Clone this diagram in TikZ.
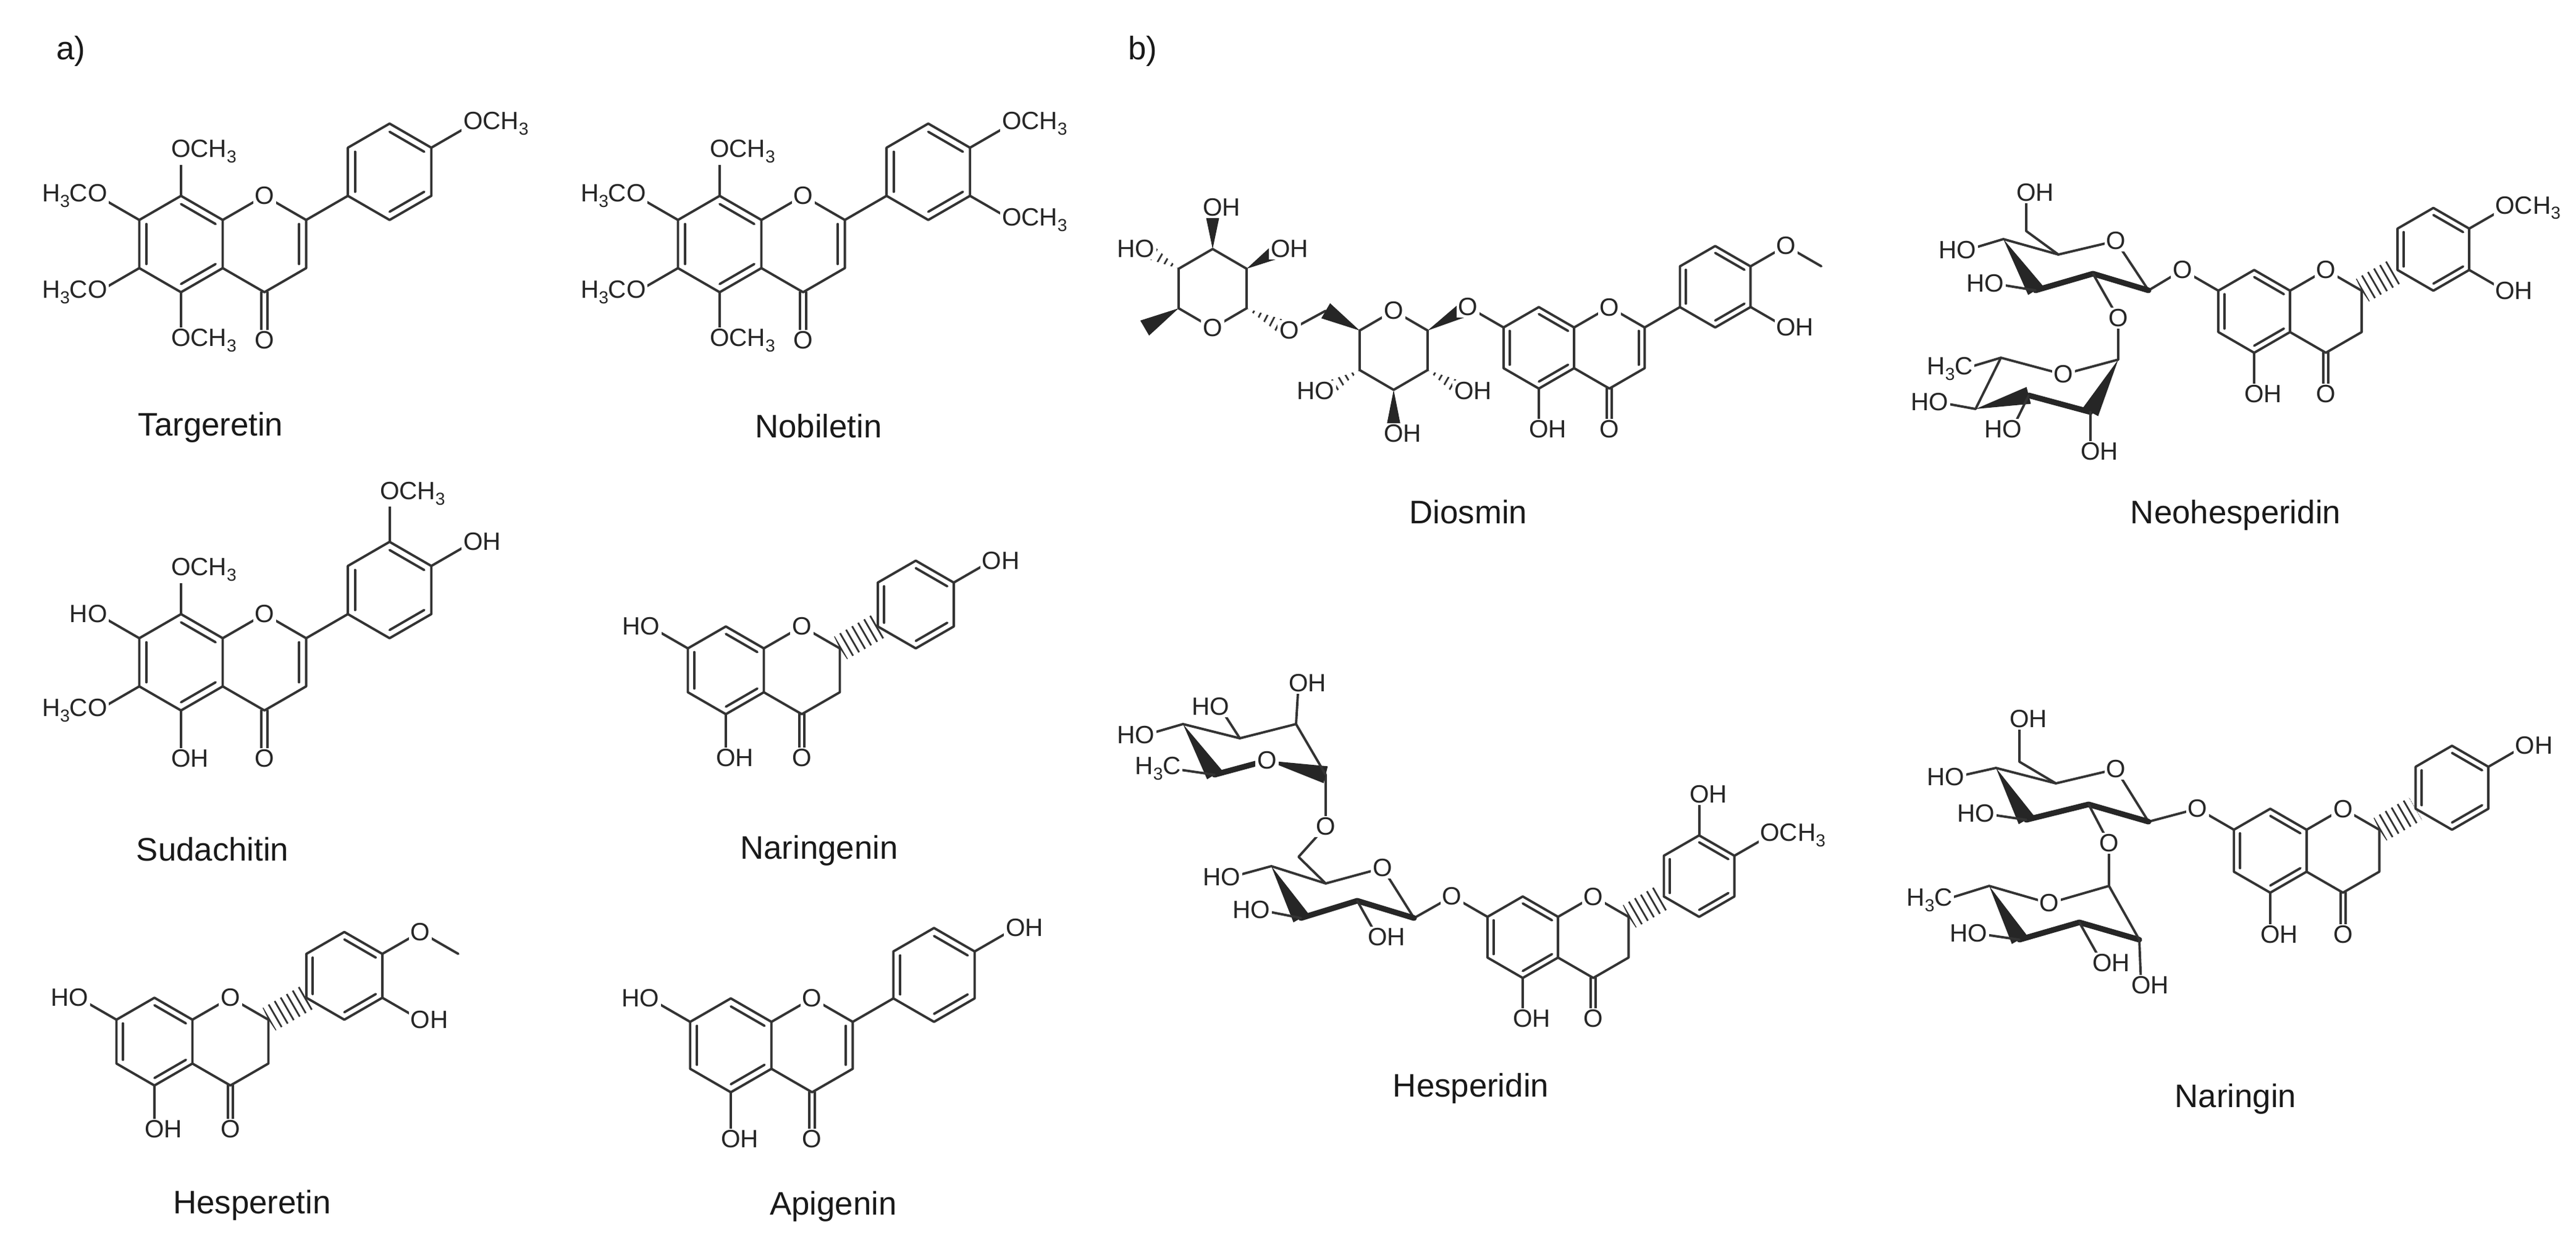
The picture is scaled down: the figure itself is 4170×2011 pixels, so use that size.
\documentclass[tikz,border=0pt]{standalone}
\usepackage{fontspec}
\setmainfont{Liberation Sans}
\usetikzlibrary{calc}
\tikzset{
  bond/.style={line width=1.1pt, draw=black!80, line cap=round, line join=round},
  boldb/.style={line width=2.6pt, draw=black!85, line cap=round, line join=round},
  lab/.style={font=\fontsize{11.5}{13}\selectfont, inner sep=0.8pt, fill=white, text=black!85},
  cname/.style={font=\fontsize{15}{18}\selectfont, text=black!90}
}
\newcommand\three{\raisebox{-.4ex}{\fontsize{8}{8}\selectfont 3}}
\newcommand\dbl[3]{\draw[bond] ($(#1)!.17!(#3)$) -- ($(#2)!.17!(#3)$);}
\newcommand\hashw[2]{\begin{scope}
  \clip (#1) -- ($(#2)!4pt!90:(#1)$) -- ($(#2)!4pt!-90:(#1)$) -- cycle;
  \draw[black!80, line width=12pt, dash pattern=on 0.8pt off 2.4pt] (#1) -- (#2);
  \end{scope}}
\newcommand\bw[2]{\fill[black!85] (#1) -- ($(#2)!4pt!90:(#1)$) -- ($(#2)!4pt!-90:(#1)$) -- cycle;}
\newcommand\lab[4]{\node[lab] at (#1) {\llap{#2}#3\rlap{#4}};}
\newcommand\sub[5]{\draw[bond] (#1) -- (#2); \node[lab] at (#2) {\llap{#3}#4\rlap{#5}};}
% core: prefix, ax, ay, L, flavone(1)/flavanone(0)
\newcommand\core[5]{%
\begin{scope}[shift={(#2,#3)},scale=#4]
\coordinate (#1a1) at (0,-1); \coordinate (#1a2) at (.866,-.5); \coordinate (#1a3) at (.866,.5);
\coordinate (#1a4) at (0,1); \coordinate (#1a5) at (-.866,.5); \coordinate (#1a6) at (-.866,-.5);
\coordinate (#1o1) at (1.732,-1); \coordinate (#1c2) at (2.598,-.5); \coordinate (#1c3) at (2.598,.5);
\coordinate (#1c4) at (1.732,1); \coordinate (#1oc) at (1.732,2);
\coordinate (#1b1) at (3.464,-1); \coordinate (#1b2) at (3.464,-2); \coordinate (#1b3) at (4.330,-2.5);
\coordinate (#1b4) at (5.196,-2); \coordinate (#1b5) at (5.196,-1); \coordinate (#1b6) at (4.330,-.5);
\coordinate (#1ac) at (0,0); \coordinate (#1cc) at (1.732,0); \coordinate (#1bc) at (4.330,-1.5);
\coordinate (#1s7) at (-1.732,-1); \coordinate (#1s6) at (-1.732,1); \coordinate (#1s8) at (0,-1.92);
\coordinate (#1s5) at (0,2); \coordinate (#1s4p) at (6.062,-2.5); \coordinate (#1s3p) at (6.062,-.5);
\coordinate (#1s3t) at (4.33,-3.5); \coordinate (#1me) at (6.928,-2);
\draw[bond] (#1a1)--(#1a2)--(#1a3)--(#1a4)--(#1a5)--(#1a6)--cycle;
\draw[bond] (#1a2)--(#1o1)--(#1c2)--(#1c3)--(#1c4)--(#1a3);
\draw[bond] (#1b1)--(#1b2)--(#1b3)--(#1b4)--(#1b5)--(#1b6)--cycle;
\dbl{#1a5}{#1a6}{#1ac}\dbl{#1a1}{#1a2}{#1ac}\dbl{#1a3}{#1a4}{#1ac}
\dbl{#1b1}{#1b2}{#1bc}\dbl{#1b3}{#1b4}{#1bc}\dbl{#1b5}{#1b6}{#1bc}
\ifnum#5=1 \dbl{#1c2}{#1c3}{#1cc}\draw[bond] (#1c2)--(#1b1); \else \hashw{#1c2}{#1b1}\fi
\draw[bond] ($(#1c4)+(-.06,0)$) -- ($(#1oc)+(-.06,0)$);
\draw[bond] ($(#1c4)+(.06,0)$) -- ($(#1oc)+(.06,0)$);
\node[lab] at (#1o1) {O}; \node[lab] at (#1oc) {O};
\end{scope}}
\begin{document}
\begin{tikzpicture}[x=0.01cm,y=-0.01cm]
\useasboundingbox[fill=white] (0,0) rectangle (4170,2011);
\node[cname] at (115,83) {a)};
\node[cname] at (1850,83) {b)};
% Targeretin
\core{T}{293}{395}{78}{1}
\sub{Ta1}{Ts8}{}{O}{CH\three}
\sub{Ta6}{Ts7}{H\three C}{O}{}
\sub{Ta5}{Ts6}{H\three C}{O}{}
\sub{Ta4}{Ts5}{}{O}{CH\three}
\sub{Tb4}{Ts4p}{}{O}{CH\three}
\node[cname] at (341,692) {Targeretin};
% Nobiletin
\core{N}{1165}{395}{78}{1}
\sub{Na1}{Ns8}{}{O}{CH\three}
\sub{Na6}{Ns7}{H\three C}{O}{}
\sub{Na5}{Ns6}{H\three C}{O}{}
\sub{Na4}{Ns5}{}{O}{CH\three}
\sub{Nb4}{Ns4p}{}{O}{CH\three}
\sub{Nb5}{Ns3p}{}{O}{CH\three}
\node[cname] at (1325,690) {Nobiletin};
% Sudachitin
\core{S}{293}{1072}{78}{1}
\sub{Sa1}{Ss8}{}{O}{CH\three}
\sub{Sa6}{Ss7}{H}{O}{}
\sub{Sa5}{Ss6}{H\three C}{O}{}
\sub{Sa4}{Ss5}{}{O}{H}
\sub{Sb3}{Ss3t}{}{O}{CH\three}
\sub{Sb4}{Ss4p}{}{O}{H}
\node[cname] at (344,1375) {Sudachitin};
% Naringenin
\core{G}{1175}{1085}{71}{0}
\sub{Ga6}{Gs7}{H}{O}{}
\sub{Ga4}{Gs5}{}{O}{H}
\sub{Gb4}{Gs4p}{}{O}{H}
\node[cname] at (1326,1377) {Naringenin};
% Hesperetin
\core{H}{250}{1686}{71}{0}
\sub{Ha6}{Hs7}{H}{O}{}
\sub{Ha4}{Hs5}{}{O}{H}
\draw[bond] (Hs4p)--(Hme);
\sub{Hb4}{Hs4p}{}{O}{}
\sub{Hb5}{Hs3p}{}{O}{H}
\node[cname] at (408,1951) {Hesperetin};
% Apigenin
\core{P}{1183}{1692}{76}{1}
\sub{Pa6}{Ps7}{H}{O}{}
\sub{Pa4}{Ps5}{}{O}{H}
\sub{Pb4}{Ps4p}{}{O}{H}
\node[cname] at (1349,1953) {Apigenin};
% Diosmin
\core{D}{2491}{563}{66}{1}
\coordinate (Dg1) at (2311,535); \coordinate (DgO) at (2256,503); \coordinate (Dg5) at (2201,535);
\coordinate (Dg4) at (2201,599); \coordinate (Dg3) at (2256,631); \coordinate (Dg2) at (2311,599);
\coordinate (Dg6) at (2146,503); \coordinate (DO6) at (2087,535);
\coordinate (Dr1) at (2018,499); \coordinate (DrO) at (1963,531); \coordinate (Dr5) at (1908,499);
\coordinate (Dr4) at (1908,435); \coordinate (Dr3) at (1963,403); \coordinate (Dr2) at (2018,435);
\coordinate (Dh2) at (2370,633); \coordinate (Dh3) at (2256,702); \coordinate (Dh4) at (2144,633);
\coordinate (Drme) at (1853,531); \coordinate (Drh4) at (1853,403); \coordinate (Drh3) at (1963,336); \coordinate (Drh2) at (2073,403);
\draw[bond] (Dg1)--(DgO)--(Dg5)--(Dg4)--(Dg3)--(Dg2)--cycle;
\draw[bond] (Da6)--(Ds7); \draw[bond] (Dg6)--(DO6);
\draw[bond] (Dr1)--(DrO)--(Dr5)--(Dr4)--(Dr3)--(Dr2)--cycle;
\bw{Dg1}{Ds7} \hashw{Dg2}{Dh2} \bw{Dg3}{Dh3} \hashw{Dg4}{Dh4} \bw{Dg5}{Dg6}
\hashw{Dr1}{DO6} \bw{Dr5}{Drme} \hashw{Dr4}{Drh4} \bw{Dr3}{Drh3} \bw{Dr2}{Drh2}
\lab{DgO}{}{O}{} \lab{Ds7}{}{O}{} \lab{DO6}{}{O}{} \lab{DrO}{}{O}{}
\lab{Dh2}{}{O}{H} \lab{Dh3}{}{O}{H} \lab{Dh4}{H}{O}{}
\lab{Drh4}{H}{O}{} \lab{Drh3}{}{O}{H} \lab{Drh2}{}{O}{H}
\sub{Da4}{Ds5}{}{O}{H}
\draw[bond] (Ds4p)--(Dme);
\sub{Db4}{Ds4p}{}{O}{}
\sub{Db5}{Ds3p}{}{O}{H}
\node[cname] at (2377,829) {Diosmin};
% Neohesperidin
\core{E}{3649}{504}{67}{0}
\coordinate (Eg1) at (3478,470); \coordinate (EgO) at (3425,390); \coordinate (Eg5) at (3332,412);
\coordinate (Eg4) at (3243,387); \coordinate (Eg3) at (3295,470); \coordinate (Eg2) at (3388,443);
\coordinate (Eg6) at (3280,374); \coordinate (Eh6) at (3280,312); \coordinate (Eh4) at (3183,405);
\coordinate (Eh3) at (3228,459); \coordinate (EO2) at (3429,515);
\coordinate (Er1) at (3429,582); \coordinate (ErO) at (3340,606); \coordinate (Er5) at (3239,579);
\coordinate (Er4) at (3198,662); \coordinate (Er3) at (3284,640); \coordinate (Er2) at (3384,667);
\coordinate (Erme) at (3179,597); \coordinate (Erh4) at (3138,651); \coordinate (Erh3) at (3257,695); \coordinate (Erh2) at (3384,731);
\draw[bond] (Ea6)--(Es7)--(Eg1)--(EgO)--(Eg5)--(Eg4);
\bw{Eg4}{Eg3} \draw[boldb] (Eg3)--(Eg2)--(Eg1);
\draw[bond] (Eg5)--(Eg6)--(Eh6); \draw[bond] (Eg4)--(Eh4); \draw[bond] (Eg3)--(Eh3);
\draw[bond] (Eg2)--(EO2)--(Er1);
\draw[bond] (Er1)--(ErO)--(Er5)--(Er4);
\bw{Er4}{Er3} \draw[boldb] (Er3)--(Er2); \bw{Er1}{Er2}
\draw[bond] (Er5)--(Erme); \draw[bond] (Er4)--(Erh4); \draw[bond] (Er3)--(Erh3); \draw[bond] (Er2)--(Erh2);
\lab{EgO}{}{O}{} \lab{Es7}{}{O}{} \lab{EO2}{}{O}{} \lab{ErO}{}{O}{}
\lab{Eh6}{}{O}{H} \lab{Eh4}{H}{O}{} \lab{Eh3}{H}{O}{}
\lab{Erme}{H\three}{C}{} \lab{Erh4}{H}{O}{} \lab{Erh3}{H}{O}{} \lab{Erh2}{}{O}{H}
\sub{Ea4}{Es5}{}{O}{H}
\sub{Eb4}{Es4p}{}{O}{CH\three}
\sub{Eb5}{Es3p}{}{O}{H}
\node[cname] at (3619,834) {Neohesperidin};
% Hesperidin
\core{R}{2465}{1517}{66}{0}
\coordinate (Rg1) at (2289,1486); \coordinate (RgO) at (2238,1405); \coordinate (Rg5) at (2146,1430);
\coordinate (Rg4) at (2058,1402); \coordinate (Rg3) at (2106,1486); \coordinate (Rg2) at (2197,1458);
\coordinate (Rh4) at (1992,1420); \coordinate (Rh3) at (2040,1473); \coordinate (Rh2) at (2230,1517);
\coordinate (Rg6) at (2102,1387); \coordinate (RO6) at (2146,1338);
\coordinate (Rr1) at (2146,1254); \coordinate (RrO) at (2051,1231); \coordinate (Rr5) at (1966,1254);
\coordinate (Rr4) at (1915,1172); \coordinate (Rr3) at (2007,1195); \coordinate (Rr2) at (2098,1172);
\coordinate (Rrme) at (1897,1244); \coordinate (Rrh4) at (1853,1190); \coordinate (Rrh3) at (1974,1144); \coordinate (Rrh2) at (2102,1106);
\draw[bond] (Ra6)--(Rs7)--(Rg1)--(RgO)--(Rg5)--(Rg4);
\bw{Rg4}{Rg3} \draw[boldb] (Rg3)--(Rg2)--(Rg1);
\draw[bond] (Rg4)--(Rh4); \draw[bond] (Rg3)--(Rh3); \draw[bond] (Rg2)--(Rh2);
\draw[bond] (Rg5)--(Rg6)--(RO6)--(Rr1);
\bw{RrO}{Rr1} \draw[boldb] (RrO)--(Rr5); \bw{Rr4}{Rr5}
\draw[bond] (Rr4)--(Rr3)--(Rr2)--(Rr1);
\draw[bond] (Rr5)--(Rrme); \draw[bond] (Rr4)--(Rrh4); \draw[bond] (Rr3)--(Rrh3); \draw[bond] (Rr2)--(Rrh2);
\lab{RgO}{}{O}{} \lab{Rs7}{}{O}{} \lab{RO6}{}{O}{} \lab{RrO}{}{O}{}
\lab{Rh4}{H}{O}{} \lab{Rh3}{H}{O}{} \lab{Rh2}{}{O}{H}
\lab{Rrme}{H\three}{C}{} \lab{Rrh4}{H}{O}{} \lab{Rrh3}{H}{O}{} \lab{Rrh2}{}{O}{H}
\sub{Ra4}{Rs5}{}{O}{H}
\sub{Rb3}{Rs3t}{}{O}{H}
\sub{Rb4}{Rs4p}{}{O}{CH\three}
\node[cname] at (2381,1762) {Hesperidin};
% Naringin
\core{Q}{3675}{1377}{68}{0}
\coordinate (Qg1) at (3478,1330); \coordinate (QgO) at (3425,1245); \coordinate (Qg5) at (3328,1268);
\coordinate (Qg4) at (3231,1243); \coordinate (Qg3) at (3280,1327); \coordinate (Qg2) at (3381,1302);
\coordinate (Qg6) at (3269,1233); \coordinate (Qh6) at (3269,1164); \coordinate (Qh4) at (3164,1258);
\coordinate (Qh3) at (3213,1317); \coordinate (QO2) at (3414,1365);
\coordinate (Qr1) at (3414,1434); \coordinate (QrO) at (3317,1462); \coordinate (Qr5) at (3220,1434);
\coordinate (Qr4) at (3269,1521); \coordinate (Qr3) at (3366,1493); \coordinate (Qr2) at (3463,1521);
\coordinate (Qrme) at (3146,1457); \coordinate (Qrh4) at (3201,1511); \coordinate (Qrh3) at (3403,1559); \coordinate (Qrh2) at (3466,1595);
\draw[bond] (Qa6)--(Qs7)--(Qg1)--(QgO)--(Qg5)--(Qg4);
\bw{Qg4}{Qg3} \draw[boldb] (Qg3)--(Qg2)--(Qg1);
\draw[bond] (Qg5)--(Qg6)--(Qh6); \draw[bond] (Qg4)--(Qh4); \draw[bond] (Qg3)--(Qh3);
\draw[bond] (Qg2)--(QO2)--(Qr1);
\draw[bond] (Qr1)--(QrO)--(Qr5);
\bw{Qr5}{Qr4} \draw[boldb] (Qr4)--(Qr3)--(Qr2); \draw[bond] (Qr2)--(Qr1);
\draw[bond] (Qr5)--(Qrme); \draw[bond] (Qr4)--(Qrh4); \draw[bond] (Qr3)--(Qrh3); \draw[bond] (Qr2)--(Qrh2);
\lab{QgO}{}{O}{} \lab{Qs7}{}{O}{} \lab{QO2}{}{O}{} \lab{QrO}{}{O}{}
\lab{Qh6}{}{O}{H} \lab{Qh4}{H}{O}{} \lab{Qh3}{H}{O}{}
\lab{Qrme}{H\three}{C}{} \lab{Qrh4}{H}{O}{} \lab{Qrh3}{}{O}{H} \lab{Qrh2}{}{O}{H}
\sub{Qa4}{Qs5}{}{O}{H}
\sub{Qb4}{Qs4p}{}{O}{H}
\node[cname] at (3619,1779) {Naringin};
\end{tikzpicture}
\end{document}
